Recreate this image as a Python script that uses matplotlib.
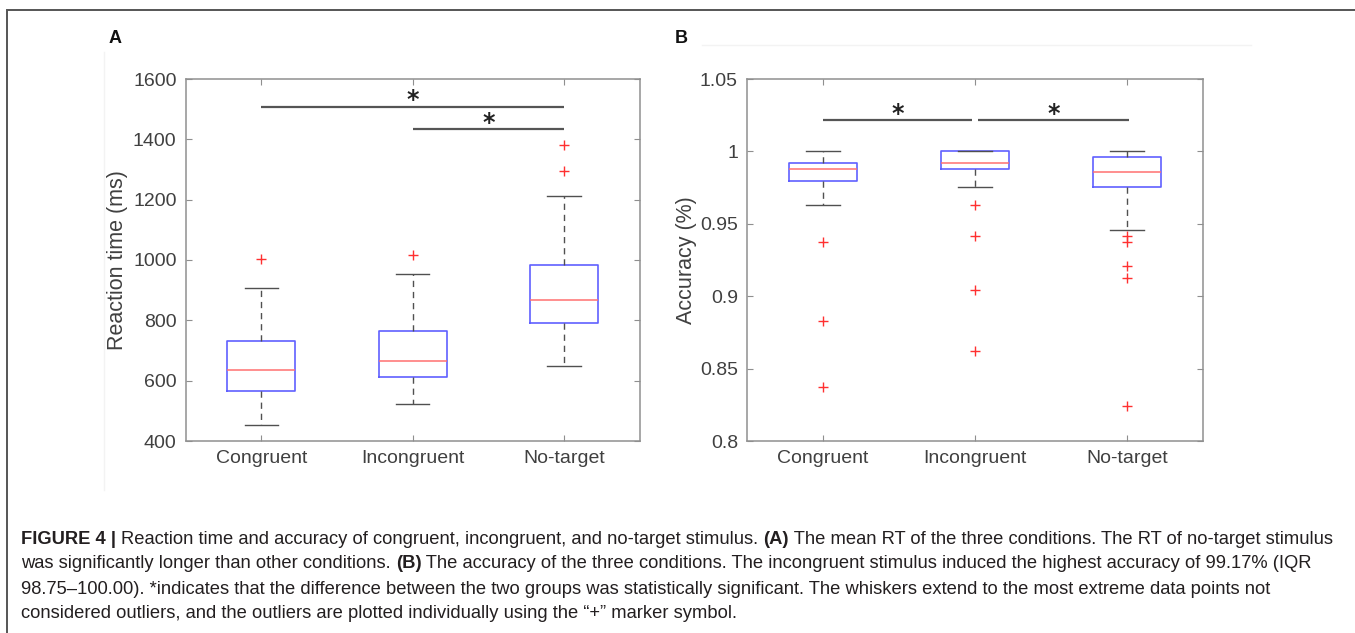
import matplotlib
matplotlib.use("Agg")
import matplotlib.pyplot as plt
from matplotlib.lines import Line2D
from matplotlib.patches import Rectangle

# ---------------- data ----------------
categories = ["Congruent", "Incongruent", "No-target"]

rt_whislo = [452, 524, 650]
rt_q1 = [567, 613, 790]
rt_med = [634, 665, 867]
rt_q3 = [730, 766, 983]
rt_whishi = [908, 954, 1213]
rt_fliers = [[1004], [1015], [1294, 1381]]
rt_sig = [(1, 3, 1508), (2, 3, 1433)]
rt_yticks = [400, 600, 800, 1000, 1200, 1400, 1600]

acc_whislo = [0.9628, 0.9752, 0.946]
acc_q1 = [0.9793, 0.9876, 0.9752]
acc_med = [0.9878, 0.9917, 0.9858]
acc_q3 = [0.992, 1.0, 0.9964]
acc_whishi = [1.0, 1.0, 1.0]
acc_fliers = [[0.9374, 0.8829, 0.8373],
              [0.9628, 0.9416, 0.904, 0.8619],
              [0.9416, 0.9374, 0.9206, 0.9123, 0.8242]]
acc_sig = [(1, 1.98, 1.0217), (2.02, 3.01, 1.0217)]
acc_yticks = [0.8, 0.85, 0.9, 0.95, 1.0, 1.05]
acc_yticklabels = ["0.8", "0.85", "0.9", "0.95", "1", "1.05"]

caption_lines = [
    [("FIGURE 4 | ", True), ("Reaction time and accuracy of congruent, incongruent, and no-target stimulus. ", False),
     ("(A)", True), (" The mean RT of the three conditions. The RT of no-target stimulus", False)],
    [("was significantly longer than other conditions. ", False), ("(B)", True),
     (" The accuracy of the three conditions. The incongruent stimulus induced the highest accuracy of 99.17% (IQR", False)],
    [("98.75\u2013100.00). *indicates that the difference between the two groups was statistically significant. The whiskers extend to the most extreme data points not", False)],
    [("considered outliers, and the outliers are plotted individually using the \u201c+\u201d marker symbol.", False)],
]

# ---------------- style ----------------
FONT = ["Liberation Sans", "DejaVu Sans"]
plt.rcParams["font.family"] = FONT
W, H = 1355, 633
fig = plt.figure(figsize=(W / 100, H / 100), dpi=100)

SPINE = "#8f8f8f"
TXT = "#404040"
BOXC = "#6060ff"
MEDC = "#ff7070"
WHC = "#505050"


def draw_panel(ax, whislo, q1, med, q3, whishi, fliers, ylim, yticks, yticklabels, ylabel, sig,
               star_y_off, ylabel_x):
    stats = []
    for i in range(len(categories)):
        stats.append(dict(whislo=whislo[i], q1=q1[i], med=med[i], q3=q3[i],
                          whishi=whishi[i], fliers=fliers[i], label=categories[i]))
    ax.bxp(stats, positions=[1, 2, 3], widths=0.45, showfliers=True,
           boxprops=dict(color=BOXC, linewidth=1.2),
           medianprops=dict(color=MEDC, linewidth=1.1),
           whiskerprops=dict(color=WHC, linewidth=1.0, linestyle=(0, (4.5, 3.5))),
           capprops=dict(color=WHC, linewidth=1.0),
           flierprops=dict(marker="+", markeredgecolor="#ff3030", markersize=6.5, markeredgewidth=1.0,
                           linestyle="none"),
           capwidths=0.22)
    ax.set_xlim(0.5, 3.5)
    ax.set_ylim(*ylim)
    ax.set_yticks(yticks)
    ax.set_yticklabels(yticklabels)
    ax.set_xticks([1, 2, 3])
    ax.set_xticklabels(categories)
    ax.tick_params(direction="in", top=True, right=True, length=4, width=0.8, color=SPINE,
                   labelsize=14, labelcolor=TXT, pad=6.5)
    for s in ax.spines.values():
        s.set_color(SPINE)
        s.set_linewidth(1.1)
    ax.set_ylabel(ylabel, fontsize=15.5, color=TXT, va="center")
    ax.yaxis.set_label_coords(ylabel_x, 0.5)
    for (x0, x1, y) in sig:
        ax.plot([x0, x1], [y, y], color="#555555", lw=1.6, solid_capstyle="butt")
        ax.text((x0 + x1) / 2, y + star_y_off, "*", ha="center", va="center",
                fontsize=17, fontweight="bold", color="#222222", family="DejaVu Sans")


axA = fig.add_axes([185.6 / W, 1 - 441 / H, 454 / W, 362 / H])
draw_panel(axA, rt_whislo, rt_q1, rt_med, rt_q3, rt_whishi, rt_fliers, (400, 1600),
           rt_yticks, [str(v) for v in rt_yticks], "Reaction time (ms)", rt_sig, 22,
           (118 - 185.6) / 454)

axB = fig.add_axes([747 / W, 1 - 441 / H, 456 / W, 362 / H])
draw_panel(axB, acc_whislo, acc_q1, acc_med, acc_q3, acc_whishi, acc_fliers, (0.8, 1.05),
           acc_yticks, acc_yticklabels, "Accuracy (%)", acc_sig, 0.0042,
           (686.5 - 747) / 456)

# panel letters
fig.text(109 / W, 1 - 38.5 / H, "A", fontsize=13, fontweight="bold",
         ha="left", va="center", color="#111111")
fig.text(675 / W, 1 - 38.5 / H, "B", fontsize=13, fontweight="bold",
         ha="left", va="center", color="#111111")

# faint image-edge artifacts
fig.add_artist(Line2D([702 / W, 1251 / W], [1 - 45 / H, 1 - 45 / H], color="#f3f3f3", lw=1))
fig.add_artist(Line2D([104 / W, 104 / W], [1 - 52 / H, 1 - 490 / H], color="#f3f3f3", lw=1))

# outer border
fig.add_artist(Rectangle((7 / W, -0.01), 1.02, 1 - 10 / H + 0.01, transform=fig.transFigure,
                         fill=False, edgecolor="#555555", lw=1.4))

# caption
renderer = fig.canvas.get_renderer()


def run_width(runs, size):
    total = 0
    for txt, bold in runs:
        t = fig.text(0, 0, txt, fontsize=size, fontweight="bold" if bold else "normal")
        total += t.get_window_extent(renderer).width
        t.remove()
    return total


CAP_X0, CAP_X1 = 21, 1333
base = 11
w = run_width(caption_lines[0], base)
cap_size = base * (CAP_X1 - CAP_X0) / w

line_ys = [540, 564, 589, 613]
for runs, yy in zip(caption_lines, line_ys):
    x = CAP_X0
    for txt, bold in runs:
        t = fig.text(x / W, 1 - yy / H, txt, fontsize=cap_size, fontweight="bold" if bold else "normal",
                     ha="left", va="center", color="#231f20")
        x += t.get_window_extent(renderer).width

fig.savefig("out.png", dpi=100)
